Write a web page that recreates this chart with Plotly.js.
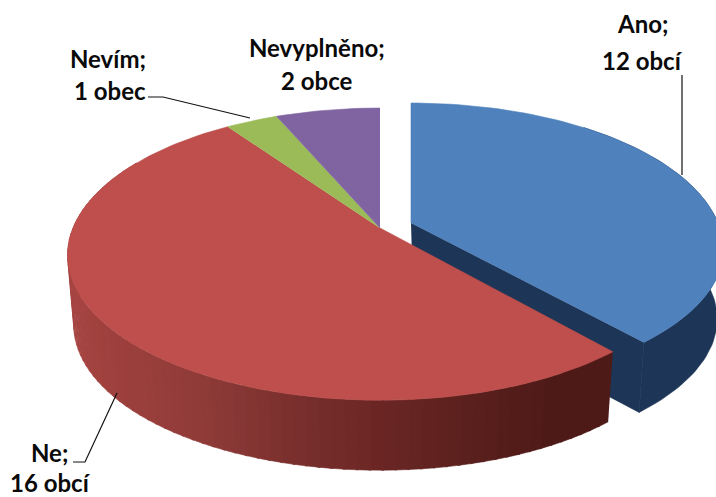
<!DOCTYPE html>
<html><head><meta charset="utf-8">
<script src="https://cdn.plot.ly/plotly-3.0.1.min.js"></script>
<style>html,body{margin:0;padding:0;background:#fff}</style></head>
<body><div id="chart" style="width:716px;height:497px"></div>
<script>
const categories = ['Ano','Ne','Nevím','Nevyplněno'];
const values = [12,16,1,2];
const unitLabels = ['12 obcí','16 obcí','1 obec','2 obce'];
const topColors = ['#4F81BD','#BE4F4C','#9BBB59','#8064A2'];

// projection of the tilted pie
const total = values.reduce((a,b)=>a+b,0);
const C = {x:380,y:228,a:307,b:142.3,k:0.186,depth:70,shrink:0.98};
function rim(deg,ox,oy,low,ys){
  const t=deg*Math.PI/180,u=Math.sin(t),v=Math.cos(t),d=1+C.k*v;
  let X=C.a*u/d,Y=-C.b*v/d;
  if(Y>0)Y*=ys;
  if(low){X*=C.shrink;Y=Y+C.depth;}
  return [C.x+X+ox,C.y+Y+oy];
}
function arc(a0,a1,ox,oy,low,ys){
  const n=Math.max(2,Math.ceil(Math.abs(a1-a0)/1.5)),p=[];
  for(let i=0;i<=n;i++)p.push(rim(a0+(a1-a0)*i/n,ox,oy,low,ys));
  return p;
}
function poly(pts,color,name){
  return {type:'scatter',mode:'lines',x:pts.map(p=>p[0]),y:pts.map(p=>p[1]),fill:'toself',
    fillcolor:color,line:{color:color,width:0.6},hoverinfo:'skip',showlegend:false,name:name};
}
function apex(ox,oy,low){return low?[C.x+ox,C.y+oy+C.depth]:[C.x+ox,C.y+oy];}
const bounds=[];let acc=0;
values.forEach(v=>{bounds.push([acc/total*360,(acc+v)/total*360]);acc+=v;});

const traces=[];
const pull={x:31,y:-5};
const blueY=0.95, redY=0.985;
// blue: side and cut face
const [b0,b1]=bounds[0];
const blueSide='#1D3557';
traces.push(poly([...arc(40,b1,pull.x,pull.y,false,blueY),...arc(b1,40,pull.x,pull.y,true,blueY)],blueSide,'Ano bok'));
traces.push(poly([apex(pull.x,pull.y,false),rim(b1,pull.x,pull.y,false,blueY),rim(b1,pull.x,pull.y,true,blueY),apex(pull.x+2,pull.y,true)],blueSide,'Ano řez'));
// top of blue
traces.push(poly([apex(pull.x,pull.y,false),...arc(b0,b1,pull.x,pull.y,false,blueY)],topColors[0],categories[0]));
// red side: shade read along the horizontal position
const stopX=[60,100,200,290,380,470,550,620];
const stopC=[[168,70,68],[160,65,62],[143,59,56],[122,48,46],[107,38,36],[90,32,29],[78,26,23],[78,26,23]];
function shade(x){
  for(let i=0;i<stopX.length-1;i++){
    if(x<=stopX[i+1]){
      const f=Math.max(0,(x-stopX[i])/(stopX[i+1]-stopX[i]));
      const c=stopC[i].map((q,j)=>Math.round(q+(stopC[i+1][j]-q)*f));
      return `rgb(${c.join(',')})`;
    }
  }
  return 'rgb(78,26,23)';
}
const [r0,r1]=bounds[1];
for(let d=r0;d<300;d+=2){
  const e=Math.min(d+2.4,300);
  traces.push(poly([...arc(d,e,0,0,false,redY),...arc(e,d,0,0,true,redY)],shade(rim(d+1,0,0,false,redY)[0]),'Ne bok'));
}
// other tops
[1,2,3].forEach(i=>{
  const [a0,a1]=bounds[i];
  traces.push(poly([apex(0,0,false),...arc(a0,a1,0,0,false,redY)],topColors[i],categories[i]));
});
// leader lines
const leaderX=[[148,163,250],[682,682],[73,85,117]];
const leaderY=[[97,97,118],[75,175],[462,462,393]];
leaderX.forEach((lx,i)=>traces.push({type:'scatter',mode:'lines',x:lx,y:leaderY[i],
  line:{color:'#111',width:1.2},hoverinfo:'skip',showlegend:false}));

const font={family:'Lato, "Open Sans", sans-serif',size:24,color:'#0a0a0a'};
const labelPos=[[642,23,642,60],[49,452,50,482],[108,58,110,90],[317,47,317,80]];
const annotations=[];
categories.forEach((c,i)=>{
  const p=labelPos[i];
  annotations.push({x:p[0],y:p[1],text:'<b>'+c+';</b>',showarrow:false,font,xref:'x',yref:'y',xanchor:'center',yanchor:'middle'});
  annotations.push({x:p[2],y:p[3],text:'<b>'+unitLabels[i]+'</b>',showarrow:false,font,xref:'x',yref:'y',xanchor:'center',yanchor:'middle'});
});
Plotly.newPlot('chart',traces,{
  width:716,height:497,margin:{l:0,r:0,t:0,b:0},paper_bgcolor:'#fff',plot_bgcolor:'#fff',showlegend:false,
  xaxis:{range:[0,716],visible:false,fixedrange:true},
  yaxis:{range:[497,0],visible:false,fixedrange:true},
  annotations
},{displayModeBar:false,staticPlot:true});
</script></body></html>
